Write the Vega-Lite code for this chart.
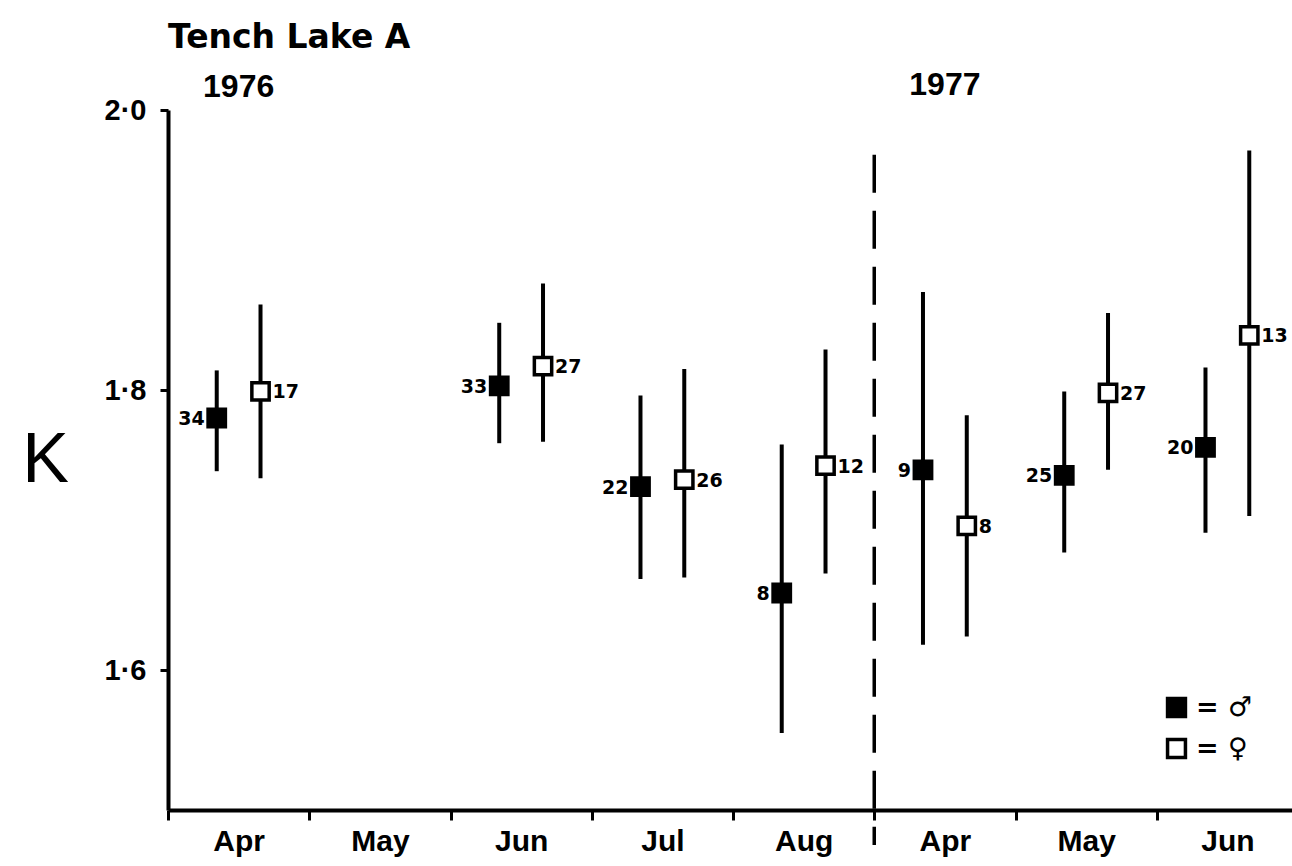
{
  "$schema": "https://vega.github.io/schema/vega-lite/v6.json",
  "autosize": {"type": "none"},
  "width": 1124,
  "height": 700,
  "padding": {"left": 168, "top": 110, "right": 0, "bottom": 56},
  "background": "white",
  "title": {
    "text": "Tench  Lake A",
    "anchor": "start",
    "frame": "group",
    "font": "DejaVu Sans",
    "fontSize": 33,
    "fontWeight": "bold",
    "color": "black",
    "offset": 14
  },
  "config": {
    "view": {"stroke": null},
    "font": "Liberation Sans"
  },
  "datasets": {
    "k": [
      {"month": "Apr-76", "sex": "male", "K": 1.780, "lo": 1.742, "hi": 1.814, "n": 34},
      {"month": "Apr-76", "sex": "female", "K": 1.799, "lo": 1.737, "hi": 1.861, "n": 17},
      {"month": "Jun-76", "sex": "male", "K": 1.803, "lo": 1.762, "hi": 1.848, "n": 33},
      {"month": "Jun-76", "sex": "female", "K": 1.817, "lo": 1.763, "hi": 1.876, "n": 27},
      {"month": "Jul-76", "sex": "male", "K": 1.731, "lo": 1.665, "hi": 1.796, "n": 22},
      {"month": "Jul-76", "sex": "female", "K": 1.736, "lo": 1.666, "hi": 1.815, "n": 26},
      {"month": "Aug-76", "sex": "male", "K": 1.655, "lo": 1.555, "hi": 1.761, "n": 8},
      {"month": "Aug-76", "sex": "female", "K": 1.746, "lo": 1.669, "hi": 1.829, "n": 12},
      {"month": "Apr-77", "sex": "male", "K": 1.743, "lo": 1.618, "hi": 1.870, "n": 9},
      {"month": "Apr-77", "sex": "female", "K": 1.703, "lo": 1.624, "hi": 1.782, "n": 8},
      {"month": "May-77", "sex": "male", "K": 1.739, "lo": 1.684, "hi": 1.799, "n": 25},
      {"month": "May-77", "sex": "female", "K": 1.798, "lo": 1.743, "hi": 1.855, "n": 27},
      {"month": "Jun-77", "sex": "male", "K": 1.759, "lo": 1.698, "hi": 1.816, "n": 20},
      {"month": "Jun-77", "sex": "female", "K": 1.839, "lo": 1.710, "hi": 1.971, "n": 13}
    ],
    "divider": [{"month": "Apr-77", "top": 1.968, "bottom": 1.475}],
    "years": [
      {"month": "Apr-76", "year": "1976", "K": 2.009},
      {"month": "Apr-77", "year": "1977", "K": 2.011}
    ]
  },
  "encoding": {
    "x": {
      "field": "month",
      "type": "nominal",
      "scale": {
        "domain": ["Apr-76", "May-76", "Jun-76", "Jul-76", "Aug-76", "Apr-77", "May-77", "Jun-77"],
        "range": [0, 1130],
        "paddingInner": 0,
        "paddingOuter": 0
      },
      "axis": {
        "title": null,
        "labelAngle": 0,
        "labelExpr": "substring(datum.label, 0, 3)",
        "labelFont": "Liberation Sans",
        "labelFontWeight": "bold",
        "labelFontSize": 30,
        "labelColor": "black",
        "labelPadding": 6,
        "tickBand": "extent",
        "tickSize": 10,
        "tickWidth": 3,
        "tickColor": "black",
        "domainColor": "black",
        "domainWidth": 4,
        "grid": false
      }
    }
  },
  "layer": [
    {
      "data": {"name": "divider"},
      "mark": {"type": "rule", "strokeDash": [38, 18], "strokeWidth": 3.5, "color": "black"},
      "encoding": {
        "x": {"field": "month", "type": "nominal", "bandPosition": 0},
        "y": {"field": "top", "type": "quantitative"},
        "y2": {"field": "bottom"}
      }
    },
    {
      "data": {"name": "k"},
      "mark": {"type": "rule", "strokeWidth": 4, "color": "black"},
      "encoding": {
        "xOffset": {"field": "sex", "type": "nominal", "scale": {"domain": ["male", "female"], "paddingInner": 0, "paddingOuter": 0.613}},
        "y": {
          "field": "lo",
          "type": "quantitative",
          "scale": {"domain": [1.5, 2.0], "zero": false, "nice": false},
          "axis": {
            "title": "K",
            "titleAngle": 0,
            "titleFont": "Liberation Sans",
            "titleFontSize": 70,
            "titleFontWeight": "normal",
            "titleColor": "black",
            "titleBaseline": "middle",
            "titleAlign": "center",
            "titlePadding": 59,
            "values": [1.6, 1.8, 2.0],
            "format": ".1f",
            "labelExpr": "replace(datum.label, '.', '·')",
            "labelFont": "Liberation Sans",
            "labelFontWeight": "bold",
            "labelFontSize": 29,
            "labelColor": "black",
            "labelPadding": 14,
            "tickSize": 8,
            "tickWidth": 3,
            "tickColor": "black",
            "domainColor": "black",
            "domainWidth": 4,
            "grid": false
          }
        },
        "y2": {"field": "hi"}
      }
    },
    {
      "data": {"name": "k"},
      "mark": {"type": "point", "shape": "square", "filled": true, "size": 300, "stroke": "black", "strokeWidth": 3.5, "opacity": 1},
      "encoding": {
        "xOffset": {"field": "sex", "type": "nominal"},
        "y": {"field": "K", "type": "quantitative"},
        "fill": {
          "field": "sex",
          "type": "nominal",
          "scale": {"domain": ["male", "female"], "range": ["black", "white"]},
          "legend": {
            "title": null,
            "orient": "none",
            "legendX": 995,
            "legendY": 584,
            "symbolType": "square",
            "symbolSize": 320,
            "symbolStrokeColor": "black",
            "symbolStrokeWidth": 3.5,
            "symbolOpacity": 1,
            "labelExpr": "datum.label == 'male' ? '= ♂' : '= ♀'",
            "labelFont": "DejaVu Sans",
            "labelFontWeight": "bold",
            "labelFontSize": 27,
            "labelColor": "black",
            "labelOffset": 6,
            "rowPadding": 8
          }
        }
      }
    },
    {
      "data": {"name": "k"},
      "transform": [{"filter": "datum.sex == 'male'"}],
      "mark": {"type": "text", "align": "right", "baseline": "middle", "dx": -12, "dy": 1, "font": "DejaVu Sans", "fontWeight": "bold", "fontSize": 19, "color": "black"},
      "encoding": {
        "xOffset": {"field": "sex", "type": "nominal"},
        "y": {"field": "K", "type": "quantitative"},
        "text": {"field": "n", "type": "nominal"}
      }
    },
    {
      "data": {"name": "k"},
      "transform": [{"filter": "datum.sex == 'female'"}],
      "mark": {"type": "text", "align": "left", "baseline": "middle", "dx": 12, "dy": 1, "font": "DejaVu Sans", "fontWeight": "bold", "fontSize": 19, "color": "black"},
      "encoding": {
        "xOffset": {"field": "sex", "type": "nominal"},
        "y": {"field": "K", "type": "quantitative"},
        "text": {"field": "n", "type": "nominal"}
      }
    },
    {
      "data": {"name": "years"},
      "mark": {"type": "text", "align": "center", "baseline": "alphabetic", "font": "Liberation Sans", "fontWeight": "bold", "fontSize": 32, "color": "black"},
      "encoding": {
        "y": {"field": "K", "type": "quantitative"},
        "text": {"field": "year", "type": "nominal"}
      }
    }
  ]
}
